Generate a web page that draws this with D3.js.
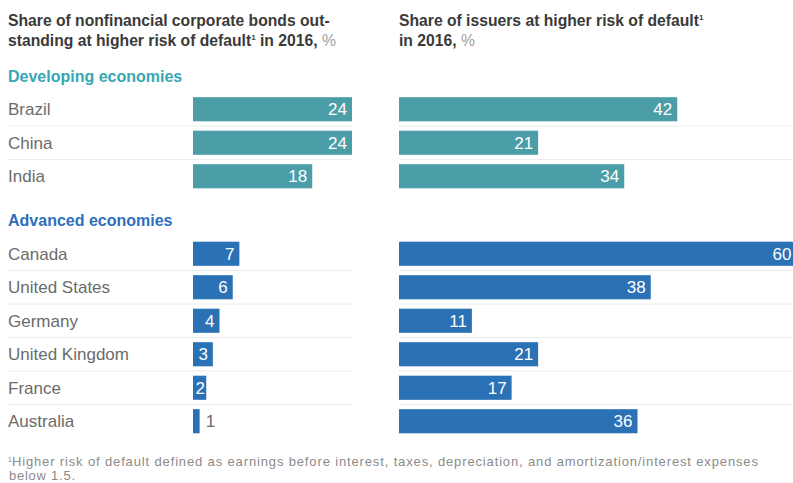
<!DOCTYPE html>
<html>
<head>
  <meta charset="utf-8">
  <title>Higher risk of default</title>
  <style>
    body { margin: 0; background: #fff; font-family: "Liberation Sans", Arial, sans-serif; }
    svg { display: block; }
  </style>
</head>
<body>
  <svg width="793" height="483"></svg>
  <script src="https://d3js.org/d3.v7.min.js"></script>
  <script>
    const developing = ["Brazil", "China", "India"];
    const advanced = ["Canada", "United States", "Germany", "United Kingdom", "France", "Australia"];
    const bondsDev = [24, 24, 18];
    const bondsAdv = [7, 6, 4, 3, 2, 1];
    const issuersDev = [42, 21, 34];
    const issuersAdv = [60, 38, 11, 21, 17, 36];

    const svg = d3.select("svg");
    const width = 793;

    const teal = "#4b9ea8", blue = "#2b71b6";
    const labelColor = "#6b6b6b";

    // same px-per-point in both panels
    const x = d3.scaleLinear().domain([0, 60]).range([0, 397.5]);
    const leftX = 193, rightX = 399;

    // titles
    const title = svg.append("g")
      .attr("font-weight", "bold").attr("font-size", 15.7).attr("fill", "#3a3a3a");
    function titleLines(x0, lines) {
      lines.forEach((ln, i) => {
        const t = title.append("text").attr("x", x0).attr("y", 26 + i * 20);
        t.append("tspan").text(ln[0]);
        if (ln[1]) t.append("tspan").attr("font-size", 8).attr("dy", -6).text(ln[1]);
        if (ln[2]) t.append("tspan").attr("dy", ln[1] ? 6 : 0).text(ln[2]);
        if (ln[3]) t.append("tspan").attr("fill", "#a0a0a0").attr("font-weight", "normal").text(ln[3]);
      });
    }
    titleLines(8, [["Share of nonfinancial corporate bonds out-"],
                   ["standing at higher risk of default", "1", " in 2016, ", "%"]]);
    titleLines(399, [["Share of issuers at higher risk of default", "1"],
                     ["in 2016, ", null, null, "%"]]);

    function group(name, headColor, color, cats, left, right, r0, r1) {
      const y = d3.scaleBand().domain(cats).range([r0, r1])
        .paddingInner(0.28).paddingOuter(0.14);
      const step = y.step();

      svg.append("text").attr("x", 8).attr("y", r0 - 11)
        .attr("font-size", 16).attr("font-weight", "bold").attr("fill", headColor)
        .text(name);

      // separators
      const seps = cats.slice(1).map((c, i) => r0 + (i + 1) * step);
      svg.append("g").selectAll("line").data(seps).join("line")
        .attr("x1", 8).attr("x2", leftX + x(24) + 1)
        .attr("y1", d => d).attr("y2", d => d)
        .attr("stroke", "#ececec").attr("stroke-width", 1);
      svg.append("g").selectAll("line").data(seps).join("line")
        .attr("x1", rightX).attr("x2", width)
        .attr("y1", d => d).attr("y2", d => d)
        .attr("stroke", "#ececec").attr("stroke-width", 1);

      svg.append("g").selectAll("text").data(cats).join("text")
        .attr("x", 8).attr("y", d => y(d) + y.bandwidth() / 2)
        .attr("dy", "0.36em").attr("font-size", 17).attr("fill", labelColor)
        .text(d => d);

      [[left, leftX], [right, rightX]].forEach(([vals, x0]) => {
        const g = svg.append("g").attr("transform", `translate(${x0},0)`);
        g.selectAll("rect").data(vals).join("rect")
          .attr("x", 0).attr("y", (d, i) => y(cats[i]))
          .attr("width", d => x(d)).attr("height", y.bandwidth())
          .attr("fill", color);
        const outside = d => x(d) < 10;
        g.selectAll("text").data(vals).join("text")
          .attr("x", d => outside(d) ? x(d) + 6 : Math.max(x(d) - 5, 12))
          .attr("y", (d, i) => y(cats[i]) + y.bandwidth() / 2)
          .attr("dy", "0.36em").attr("font-size", 17)
          .attr("text-anchor", d => outside(d) ? "start" : "end")
          .attr("fill", d => outside(d) ? labelColor : "#fff")
          .text(d => d);
      });
    }

    group("Developing economies", "#36a7b3", teal, developing, bondsDev, issuersDev, 92.5, 193);
    group("Advanced economies", "#2e6fbd", blue, advanced, bondsAdv, issuersAdv, 237, 438);

    // footnote
    const fn = svg.append("g").attr("font-size", 13).attr("fill", "#8a8a8a");
    const f1 = fn.append("text").attr("x", 8).attr("y", 466);
    f1.append("tspan").attr("font-size", 7).attr("dy", -4).text("1");
    f1.append("tspan").attr("dy", 4)
      .attr("textLength", 746).attr("lengthAdjust", "spacing")
      .text("Higher risk of default defined as earnings before interest, taxes, depreciation, and amortization/interest expenses");
    fn.append("text").attr("x", 9).attr("y", 480)
      .attr("textLength", 66).attr("lengthAdjust", "spacing")
      .text("below 1.5.");
  </script>
</body>
</html>
